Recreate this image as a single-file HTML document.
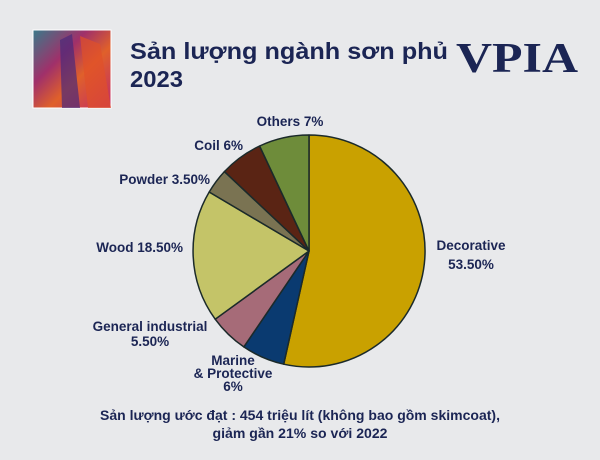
<!DOCTYPE html>
<html><head><meta charset="utf-8"><style>
html,body{margin:0;padding:0;background:#e8e9eb}
svg{display:block}
text{font-family:"Liberation Sans",sans-serif;font-weight:bold;fill:#1b2554}
</style></head><body>
<svg width="600" height="460" viewBox="0 0 600 460">
<rect width="600" height="460" fill="#e8e9eb"/>
<defs><linearGradient id="g" x1="0" y1="0" x2="1" y2="1">
<stop offset="0" stop-color="#3a7a8a"/><stop offset="0.35" stop-color="#a0306a"/><stop offset="0.6" stop-color="#e0602a"/><stop offset="1" stop-color="#c02a6a"/></linearGradient></defs>
<rect x="33" y="30" width="78" height="78" fill="url(#g)" stroke="#fff" stroke-width="1"/>
<path d="M60 40 L72 34 L80 108 L62 108Z" fill="#4a2a7a" opacity="0.7"/>
<path d="M80 36 L100 44 L111 108 L88 108Z" fill="#e0502a" opacity="0.7"/>
<text x="130" y="59" font-size="23" textLength="318" lengthAdjust="spacingAndGlyphs">Sản lượng ngành sơn phủ</text>
<text x="130" y="87" font-size="23" textLength="53" lengthAdjust="spacingAndGlyphs">2023</text>
<text x="456" y="72" font-size="42" style="font-family:'Liberation Serif',serif" textLength="122" lengthAdjust="spacingAndGlyphs">VPIA</text>
<g stroke="#1b2a2a" stroke-width="1.5" stroke-linejoin="round">
<path d="M309 251 L309 135 A116 116 0 1 1 283.7 364.2Z" fill="#c9a100"/>
<path d="M309 251 L283.7 364.2 A116 116 0 0 1 243.8 346.9Z" fill="#0a3a70"/>
<path d="M309 251 L243.8 346.9 A116 116 0 0 1 215.2 319.2Z" fill="#a66b78"/>
<path d="M309 251 L215.2 319.2 A116 116 0 0 1 209.2 192Z" fill="#c4c468"/>
<path d="M309 251 L209.2 192 A116 116 0 0 1 224.4 171.6Z" fill="#7a7352"/>
<path d="M309 251 L224.4 171.6 A116 116 0 0 1 259.6 146Z" fill="#5a2414"/>
<path d="M309 251 L259.6 146 A116 116 0 0 1 309 135Z" fill="#6e8c3a"/>
</g>
<g font-size="13.5">
<text x="290" y="126" text-anchor="middle">Others 7%</text>
<text x="243" y="150" text-anchor="end">Coil 6%</text>
<text x="210" y="184" text-anchor="end">Powder 3.50%</text>
<text x="183" y="252" text-anchor="end">Wood 18.50%</text>
<text x="150" y="331" text-anchor="middle">General industrial</text>
<text x="150" y="346" text-anchor="middle">5.50%</text>
<text x="233" y="365" text-anchor="middle">Marine</text>
<text x="233" y="378" text-anchor="middle">&amp; Protective</text>
<text x="233" y="391" text-anchor="middle">6%</text>
<text x="471" y="250" text-anchor="middle">Decorative</text>
<text x="471" y="269" text-anchor="middle">53.50%</text>
<text x="300" y="420" text-anchor="middle" textLength="400" lengthAdjust="spacingAndGlyphs">Sản lượng ước đạt : 454 triệu lít (không bao gồm skimcoat),</text>
<text x="300" y="438" text-anchor="middle" textLength="175" lengthAdjust="spacingAndGlyphs">giảm gần 21% so với 2022</text>
</g>
</svg>
</body></html>
